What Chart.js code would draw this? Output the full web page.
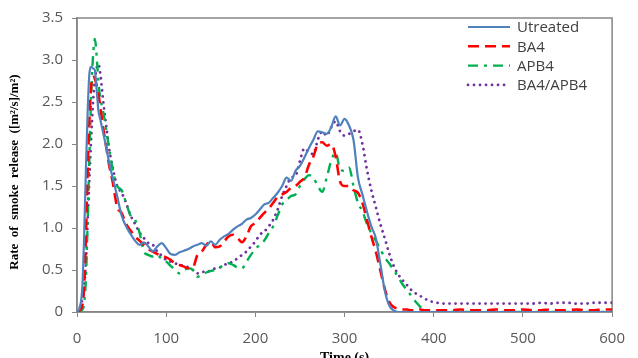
<!DOCTYPE html>
<html>
<head>
<meta charset="utf-8">
<script src="https://cdn.jsdelivr.net/npm/chart.js@4/dist/chart.umd.min.js"></script>
<style>
html,body{margin:0;padding:0;background:#fff;}
#wrap{position:relative;width:638px;height:358px;overflow:hidden;}
</style>
</head>
<body>
<div id="wrap"><canvas id="c" width="638" height="358"></canvas></div>
<script>
// Time axis (s)
const times = [0,3,6,8,10,12,14,16,18,20,22,24,26,28,30,33,36,40,
  45,50,55,60,65,70,75,80,85,90,
  95,100,105,110,115,120,125,130,135,140,
  145,150,155,160,165,170,175,180,185,190,
  195,200,205,210,215,220,225,230,235,240,
  245,250,255,260,265,270,275,280,285,290,
  295,300,305,310,315,320,325,330,335,340,
  345,350,355,360,365,370,375,380,385,390,
  395,400,
  410,420,430,440,450,460,470,480,490,500,
  510,520,530,540,550,560,570,580,590,600];

const seriesNames = ["Utreated","BA4","APB4","BA4/APB4"];

const utreated = [0,0.05,0.3,0.9,1.7,2.4,2.85,2.92,2.9,2.88,2.65,2.4,2.3,2.2,2.1,1.95,1.78,1.6,
  1.38,1.15,1.02,0.93,0.85,0.8,0.83,0.78,0.72,0.78,
  0.82,0.76,0.69,0.68,0.71,0.73,0.75,0.78,0.8,0.82,
  0.79,0.84,0.8,0.86,0.9,0.93,0.98,1.02,1.05,1.1,
  1.12,1.16,1.22,1.28,1.3,1.36,1.42,1.5,1.6,1.56,
  1.68,1.74,1.84,1.95,2.05,2.15,2.14,2.12,2.2,2.33,
  2.22,2.3,2.22,2.05,1.6,1.4,1.2,1.02,0.88,0.58,
  0.26,0.08,0.02,0,0,0,0,0,0,0,
  0,0,
  0,0,0,0,0,0,0,0,0,0,
  0,0,0,0,0,0,0,0,0,0];

const ba4 = [0,0.02,0.08,0.3,0.9,1.7,2.3,2.7,2.8,2.78,2.7,2.6,2.45,2.3,2.15,1.95,1.75,1.55,
  1.25,1.18,1.05,0.97,0.9,0.85,0.8,0.75,0.72,0.69,
  0.67,0.65,0.62,0.58,0.56,0.54,0.52,0.53,0.68,0.72,
  0.8,0.84,0.77,0.78,0.84,0.9,0.92,0.88,0.83,0.9,
  1.02,1.06,1.12,1.18,1.23,1.3,1.37,1.4,1.43,1.48,
  1.5,1.55,1.6,1.75,1.85,2.0,2.02,1.98,2.0,1.85,
  1.55,1.5,1.5,1.45,1.42,1.3,1.1,0.9,0.72,0.5,
  0.28,0.12,0.06,0.04,0.03,0.03,0.02,0.02,0.03,0.02,
  0.02,0.02,
  0.02,0.02,0.03,0.02,0.02,0.02,0.03,0.02,0.02,0.03,
  0.02,0.02,0.03,0.02,0.02,0.03,0.02,0.02,0.03,0.03];

const apb4 = [0,0.01,0.03,0.1,0.4,1.1,1.9,2.6,3.05,3.25,3.05,2.75,2.55,2.45,2.35,2.15,1.95,1.7,
  1.5,1.45,1.3,1.15,1.1,0.95,0.72,0.68,0.66,0.68,
  0.63,0.6,0.55,0.5,0.46,0.5,0.52,0.5,0.42,0.44,
  0.47,0.49,0.5,0.53,0.56,0.58,0.56,0.53,0.52,0.6,
  0.68,0.75,0.8,0.85,0.94,1.02,1.15,1.28,1.33,1.38,
  1.4,1.5,1.58,1.63,1.6,1.5,1.43,1.6,1.8,1.9,
  1.7,1.68,1.72,1.5,1.3,1.2,1.05,0.94,0.85,0.75,
  0.65,0.58,0.5,0.42,0.33,0.26,0.19,0.12,0.06,0.03,
  0.01,0,
  0,0,0,0,0,0,0,0,0,0,
  0,0,0,0,0,0,0,0,0,0];

const ba4apb4 = [0,0.05,0.15,0.3,0.6,1.1,1.6,2.1,2.5,2.75,2.9,2.95,2.85,2.65,2.45,2.2,1.95,1.72,
  1.5,1.42,1.3,1.15,1.05,0.95,0.88,0.82,0.8,0.72,
  0.67,0.62,0.6,0.58,0.56,0.55,0.53,0.5,0.46,0.48,
  0.47,0.5,0.52,0.53,0.56,0.58,0.6,0.64,0.68,0.72,
  0.78,0.84,0.92,0.96,1.02,1.1,1.22,1.38,1.5,1.6,
  1.62,1.8,1.95,1.9,1.88,2.05,2.15,2.1,2.2,2.27,
  2.15,2.1,2.12,2.15,2.17,2.0,1.7,1.45,1.25,1.05,
  0.88,0.7,0.55,0.45,0.38,0.32,0.26,0.22,0.19,0.16,
  0.13,0.12,
  0.1,0.1,0.1,0.1,0.1,0.1,0.1,0.1,0.1,0.1,
  0.1,0.11,0.1,0.11,0.11,0.1,0.1,0.11,0.11,0.11];

const xTickValues = [0,100,200,300,400,500,600];
const yTickValues = [0,0.5,1,1.5,2,2.5,3,3.5];
const xTitle = "Time (s)";
const yTitle = "Rate  of  smoke  release  ([m\u00B2/s]/m\u00B2)";

const pts = arr => arr.map((v,i)=>({x:times[i], y:v}));

const styles = [
  {color:'#4F81BD', width:2.2, dash:[], cap:'butt'},
  {color:'#FF0000', width:2.6, dash:[11,6], cap:'butt'},
  {color:'#00B050', width:2.4, dash:[10,6,3,6], cap:'butt'},
  {color:'#7030A0', width:2.8, dash:[0.01,6], cap:'round'}
];
const values = [utreated, ba4, apb4, ba4apb4];

const datasets = values.map((arr,i)=>({
  label: seriesNames[i],
  data: pts(arr),
  borderColor: styles[i].color,
  borderWidth: styles[i].width,
  borderDash: styles[i].dash,
  borderCapStyle: styles[i].cap,
  pointRadius: 0,
  fill: false,
  cubicInterpolationMode: 'monotone'
}));

const frame = {
  id:'frame',
  beforeDatasetsDraw(chart){
    const {ctx, chartArea:a} = chart;
    ctx.save();
    ctx.strokeStyle = '#868686';
    ctx.lineWidth = 1.5;
    ctx.strokeRect(a.left, a.top, a.right-a.left, a.bottom-a.top);
    ctx.restore();
  },
  afterDraw(chart){
    const {ctx, chartArea:a} = chart;
    ctx.save();
    // legend
    ctx.font = '15px "Open Sans"';
    ctx.textBaseline = 'middle';
    ctx.textAlign = 'left';
    chart.data.datasets.forEach((ds,i)=>{
      const y = 27 + i*19.3;
      ctx.beginPath();
      ctx.strokeStyle = ds.borderColor;
      ctx.lineWidth = ds.borderWidth;
      ctx.setLineDash(ds.borderDash);
      ctx.lineCap = ds.borderCapStyle;
      ctx.moveTo(468, y);
      ctx.lineTo(510, y);
      ctx.stroke();
      ctx.setLineDash([]);
      ctx.fillStyle = '#404040';
      ctx.fillText(ds.label, 517, y+1);
    });
    // axis titles
    ctx.fillStyle = '#000';
    ctx.font = 'bold 13px "Liberation Serif"';
    ctx.textAlign = 'center';
    ctx.textBaseline = 'middle';
    ctx.save();
    ctx.translate(15, 172);
    ctx.rotate(-Math.PI/2);
    ctx.fillText(yTitle, 0, 0);
    ctx.restore();
    ctx.font = 'bold 14px "Liberation Serif"';
    ctx.textBaseline = 'alphabetic';
    ctx.fillText(xTitle, (a.left+a.right)/2, 362);
    ctx.restore();
  }
};

new Chart(document.getElementById('c'), {
  type:'line',
  data:{datasets},
  options:{
    responsive:false,
    animation:false,
    devicePixelRatio:1,
    layout:{padding:{top:5,right:24,left:0,bottom:0}},
    plugins:{legend:{display:false}, tooltip:{enabled:false}},
    scales:{
      x:{
        type:'linear', min:0, max:600,
        afterBuildTicks: s => { s.ticks = xTickValues.map(v=>({value:v})); },
        afterFit: s => { s.height = 46; },
        ticks:{color:'#595959', font:{family:'"Open Sans"', size:15}, padding:13, maxRotation:0},
        grid:{drawOnChartArea:false, drawTicks:true, tickLength:5, color:'#868686', lineWidth:1},
        border:{color:'#868686', width:1.5}
      },
      y:{
        min:0, max:3.5,
        afterBuildTicks: s => { s.ticks = yTickValues.map(v=>({value:v})); },
        afterFit: s => { s.width = 77; },
        ticks:{color:'#595959', font:{family:'"Open Sans"', size:15}, padding:9},
        grid:{drawOnChartArea:false, drawTicks:true, tickLength:5, color:'#868686', lineWidth:1},
        border:{color:'#868686', width:1.5}
      }
    }
  },
  plugins:[frame]
});
</script>
</body>
</html>
